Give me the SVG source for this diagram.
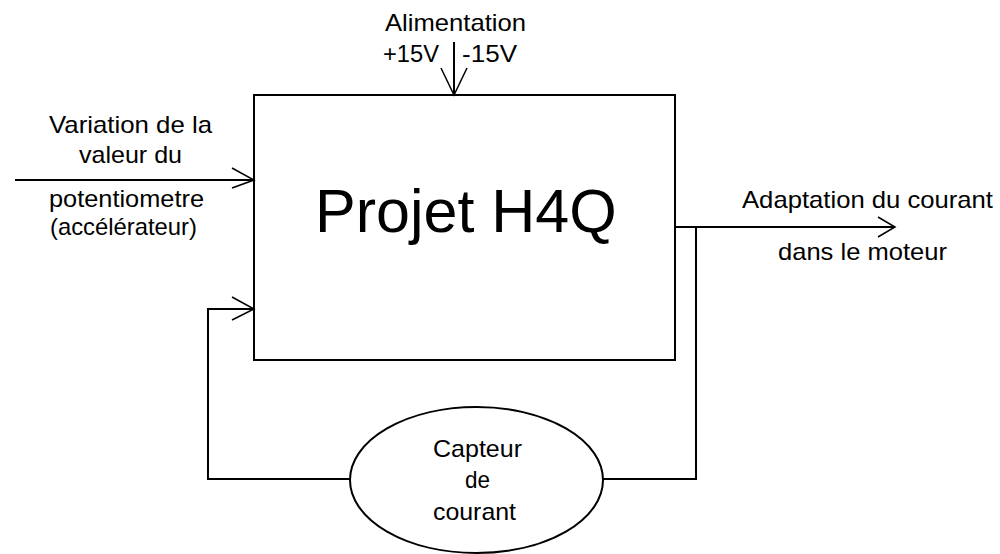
<svg xmlns="http://www.w3.org/2000/svg" width="1000" height="554" viewBox="0 0 1000 554">
<style>
.ln{fill:none;stroke:#000;stroke-width:2}
.ah{fill:none;stroke:#000;stroke-width:1.5}
.t{font-family:"Liberation Sans",Arial,sans-serif;font-size:24px;fill:#000}
.big{font-family:"Liberation Sans",Arial,sans-serif;font-size:61px;fill:#000}
</style>
<rect width="1000" height="554" fill="#fff"/>
<g id="connectors">
<line class="ln" x1="454" y1="42" x2="454" y2="95"/>
<polyline class="ah" points="441,68 454,95 467,68"/>
<line class="ln" x1="15" y1="180" x2="254" y2="180"/>
<polyline class="ah" points="232,168 254,180 232,188"/>
<polyline class="ln" points="350,479 208,479 208,309 254,309"/>
<polyline class="ah" points="232,297 254,309 232,320"/>
<line class="ln" x1="675" y1="227" x2="895" y2="227"/>
<polyline class="ah" points="878,217 895,227 878,237"/>
<polyline class="ln" points="696,227 696,479 603,479"/>
</g>
<g id="labels">
<text class="t" x="385" y="31" textLength="141" lengthAdjust="spacingAndGlyphs">Alimentation</text>
<text class="t" x="383" y="62" textLength="56" lengthAdjust="spacingAndGlyphs">+15V</text>
<text class="t" x="462" y="62" textLength="55" lengthAdjust="spacingAndGlyphs">-15V</text>
<text class="t" x="49" y="133" textLength="163" lengthAdjust="spacingAndGlyphs">Variation de la</text>
<text class="t" x="79" y="163" textLength="103" lengthAdjust="spacingAndGlyphs">valeur du</text>
<text class="t" x="49" y="207" textLength="155" lengthAdjust="spacingAndGlyphs">potentiometre</text>
<text class="t" x="50" y="235" textLength="147" lengthAdjust="spacingAndGlyphs">(accélérateur)</text>
<text class="t" x="742" y="208" textLength="251" lengthAdjust="spacingAndGlyphs">Adaptation du courant</text>
<text class="t" x="778" y="260" textLength="169" lengthAdjust="spacingAndGlyphs">dans le moteur</text>
</g>
<g id="projet">
<rect class="ln" x="254" y="95" width="421" height="265"/>
<text class="big" x="315" y="232">Projet H4Q</text>
</g>
<g id="capteur">
<ellipse class="ln" cx="476.5" cy="480" rx="126.5" ry="73" fill="#fff"/>
<text class="t" x="433" y="457" textLength="89" lengthAdjust="spacingAndGlyphs">Capteur</text>
<text class="t" x="465" y="488" textLength="25" lengthAdjust="spacingAndGlyphs">de</text>
<text class="t" x="433" y="520" textLength="83" lengthAdjust="spacingAndGlyphs">courant</text>
</g>
</svg>
